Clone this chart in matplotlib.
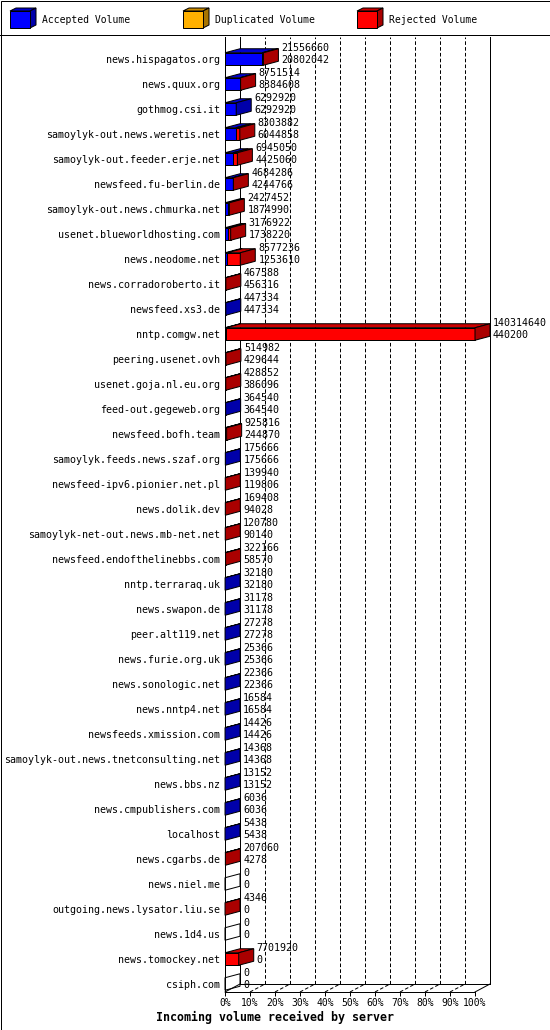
import matplotlib
matplotlib.use('Agg')
import matplotlib.pyplot as plt
from matplotlib.patches import Polygon, Rectangle

servers = [
  'news.hispagatos.org', 'news.quux.org', 'gothmog.csi.it',
  'samoylyk-out.news.weretis.net', 'samoylyk-out.feeder.erje.net',
  'newsfeed.fu-berlin.de', 'samoylyk-out.news.chmurka.net',
  'usenet.blueworldhosting.com', 'news.neodome.net', 'news.corradoroberto.it',
  'newsfeed.xs3.de', 'nntp.comgw.net', 'peering.usenet.ovh',
  'usenet.goja.nl.eu.org', 'feed-out.gegeweb.org', 'newsfeed.bofh.team',
  'samoylyk.feeds.news.szaf.org', 'newsfeed-ipv6.pionier.net.pl',
  'news.dolik.dev', 'samoylyk-net-out.news.mb-net.net',
  'newsfeed.endofthelinebbs.com', 'nntp.terraraq.uk', 'news.swapon.de',
  'peer.alt119.net', 'news.furie.org.uk', 'news.sonologic.net',
  'news.nntp4.net', 'newsfeeds.xmission.com',
  'samoylyk-out.news.tnetconsulting.net', 'news.bbs.nz',
  'news.cmpublishers.com', 'localhost', 'news.cgarbs.de', 'news.niel.me',
  'outgoing.news.lysator.liu.se', 'news.1d4.us', 'news.tomockey.net',
  'csiph.com',
]
offered = [
  21556660, 8751514, 6292920, 8303882, 6945050, 4684286, 2427452, 3176922,
  8577236, 467588, 447334, 140314640, 514982, 428852, 364540, 925816,
  175666, 139940, 169408, 120780, 322166, 32180, 31178, 27278, 25366,
  22366, 16584, 14426, 14368, 13152, 6036, 5438, 207060, 0, 4346, 0,
  7701920, 0,
]
accepted = [
  20802042, 8384608, 6292920, 6044858, 4425060, 4244766, 1874990, 1738220,
  1253610, 456316, 447334, 440200, 429644, 386096, 364540, 244870,
  175666, 119806, 94028, 90140, 58570, 32180, 31178, 27278, 25366,
  22366, 16584, 14426, 14368, 13152, 6036, 5438, 4278, 0, 0, 0,
  0, 0,
]
# no duplicated volume on any server
duplicated = [0] * len(servers)
rejected = [o - a - d for o, a, d in zip(offered, accepted, duplicated)]

FONT = 'DejaVu Sans Mono'
W, H = 550, 1030
LW = 0.72  # one pixel
BLUE = ('#0000ff', '#0000cc', '#0000aa')  # front, top, side
ORANGE = ('#ffb000', '#cc8c00', '#a87400')
RED = ('#ff0000', '#cc0000', '#aa0000')

fig = plt.figure(figsize=(W / 100, H / 100), dpi=100)


def px_box(x0, y0, x1, y1):
  return [x0 / W, 1 - y1 / H, (x1 - x0) / W, (y1 - y0) / H]


bg = fig.add_axes([0, 0, 1, 1], zorder=0)
bg.set_xlim(0, W)
bg.set_ylim(H, 0)
bg.axis('off')
bg.add_patch(Rectangle((0.5, 0.5), W - 1, H - 1, fill=False, lw=LW, ec='black'))
bg.plot([0, W], [35, 35], color='black', lw=LW)

# legend with little cubes
legend = [('Accepted Volume', BLUE, 10), ('Duplicated Volume', ORANGE, 183),
          ('Rejected Volume', RED, 357)]
for text, col, lx in legend:
  bg.add_patch(Polygon([(lx, 11), (lx + 20, 11), (lx + 26, 8), (lx + 6, 8)],
                       fc=col[1], ec='black', lw=LW))
  bg.add_patch(Polygon([(lx + 20, 11), (lx + 26, 8), (lx + 26, 25), (lx + 20, 28)],
                       fc=col[2], ec='black', lw=LW))
  bg.add_patch(Rectangle((lx, 11), 20, 17, fc=col[0], ec='black', lw=LW))
  bg.text(lx + 32, 20, text, fontsize=7, family=FONT, va='center')

bg.text(275, 1017, 'Incoming volume received by server', ha='center',
        va='center', fontsize=8.4, fontweight='bold', family=FONT)

# main plot
ax = fig.add_axes(px_box(225, 37, 490, 992), zorder=1)
ax.patch.set_visible(False)
for s in ax.spines.values():
  s.set_visible(False)

vmax = max(offered)
dx = 0.06 * vmax      # depth, 15 px
dy = 0.16             # depth of bars in rows, 4 px
fdy = 0.32            # depth of floor, 8 px
half = 0.25
ytop, ybot = -0.88, 37.32
yback = ybot - fdy
ax.set_xlim(0, vmax + dx)
ax.set_ylim(ybot, ytop)

n = len(servers)
ax.set_yticks(range(n))
ax.set_yticklabels(servers, fontsize=7.2, family=FONT)
ax.tick_params(axis='y', length=0, pad=3.6)
ticks = [vmax * k / 10 for k in range(11)]
ax.set_xticks(ticks)
ax.set_xticklabels(['%d%%' % (10 * k) for k in range(11)], fontsize=7, family=FONT)
ax.tick_params(axis='x', length=2.9, width=LW, pad=1.5)

line = dict(color='black', lw=LW, clip_on=False)
dash = dict(color='black', lw=LW, clip_on=False, dashes=(3.6, 2.2))
for t in ticks[1:-1]:
  ax.plot([t + dx, t + dx], [yback, ytop], zorder=1, **dash)
  ax.plot([t, t + dx], [ybot, yback], zorder=1, **dash)
ax.plot([0, 0], [ytop, ybot], zorder=1, **line)
ax.plot([dx, dx], [ytop, yback], zorder=1, **line)
ax.plot([vmax + dx, vmax + dx], [ytop, yback], zorder=1, **line)
ax.plot([0, vmax], [ybot, ybot], zorder=1, **line)
ax.plot([dx, vmax + dx], [yback, yback], zorder=1, **line)
ax.plot([0, dx], [ybot, yback], zorder=1, **line)
ax.plot([vmax, vmax + dx], [ybot, yback], zorder=1, **line)


def box_side(x, i, fc):
  ax.add_patch(Polygon([(x, i - half), (x, i + half), (x + dx, i + half - dy),
                        (x + dx, i - half - dy)], fc=fc, ec='black', lw=LW,
                       zorder=3, clip_on=False))


for i in range(n):
  segs = [(accepted[i], BLUE), (duplicated[i], ORANGE), (rejected[i], RED)]
  x0 = 0
  last = None
  for val, col in segs:
    if val <= 0:
      continue
    x1 = x0 + val
    ax.add_patch(Polygon([(x0, i - half), (x1, i - half), (x1 + dx, i - half - dy),
                          (x0 + dx, i - half - dy)], fc=col[1], ec='black',
                         lw=LW, zorder=3, clip_on=False))
    ax.add_patch(Rectangle((x0, i - half), val, 2 * half, fc=col[0], ec='black',
                           lw=LW, zorder=3, clip_on=False))
    x0 = x1
    last = col
  box_side(x0, i, last[2] if last else 'none')

  ax.annotate(str(offered[i]), xy=(offered[i] + dx, i), xytext=(2.2, 7.9),
              textcoords='offset points', va='center', fontsize=7.2,
              family=FONT, annotation_clip=False, zorder=4)
  ax.annotate(str(accepted[i]), xy=(offered[i] + dx, i), xytext=(2.2, -0.9),
              textcoords='offset points', va='center', fontsize=7.2,
              family=FONT, annotation_clip=False, zorder=4)

fig.savefig('out.png', dpi=100)
